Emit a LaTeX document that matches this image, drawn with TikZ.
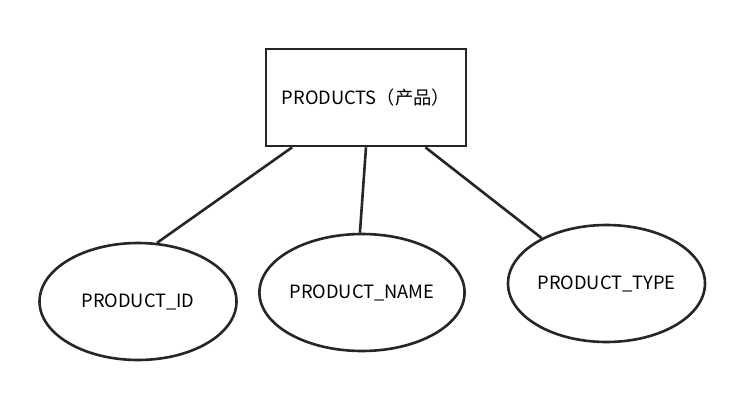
\documentclass[tikz,border=0pt]{standalone}
\usepackage{fontspec}
\setmainfont{Noto Sans CJK SC}
\usetikzlibrary{positioning, shapes.geometric}

\begin{document}
\begin{tikzpicture}[x=1pt,y=-1pt,line width=2.6pt,draw=black!85,
			entity node/.style={rectangle,draw,minimum width=200pt,minimum height=97pt,inner sep=0pt,font=\fontsize{18.3}{20}\selectfont},
			attr node/.style={ellipse,draw,minimum width=197pt,minimum height=117pt,inner sep=0pt,font=\fontsize{18.3}{20}\selectfont}]
		\useasboundingbox[fill=white] (0,0) rectangle (753,407);
		%% Nodes
		\begin{scope}
			\node (products) at (366, 97.5) [entity node] {\raisebox{-2pt}{PRODUCTS（产品）}};
		\end{scope}

		% Attributes
		\begin{scope}
			\node (product_id) at (138, 301.5) [attr node] {\raisebox{-1.5pt}{PRODUCT\_ID}};
			\node (product_name) at (362, 292.5) [attr node] {\raisebox{-1.5pt}{PRODUCT\_NAME}};
			\node (product_type) at (606.5, 283.5) [attr node] {\raisebox{-1.5pt}{PRODUCT\_TYPE}};
		\end{scope}

		%% Edges
		\draw (products.-146) -- (product_id.72);
		\draw (products.-90) -- (product_name.92);
		\draw (products.-40.5) -- (product_type.145);
	\end{tikzpicture}
\end{document}
